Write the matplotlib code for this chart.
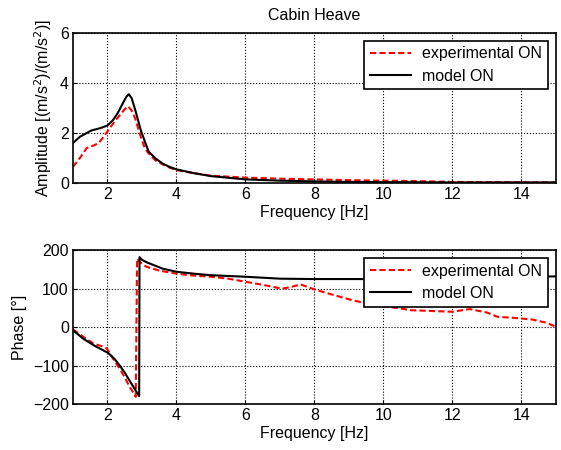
import matplotlib
matplotlib.use('Agg')
import matplotlib.pyplot as plt

plt.rcParams['font.family'] = ['Liberation Sans', 'DejaVu Sans']
plt.rcParams['font.size'] = 11.5

# Amplitude - experimental (red dashed)
amp_exp_f = [1.0, 1.2, 1.4, 1.59, 1.75, 2.02, 2.2, 2.35, 2.5, 2.6, 2.7, 2.8, 2.9, 3.0, 3.1, 3.25, 3.4, 3.6,
             3.8, 4.0, 4.5, 5.0, 6.0, 7.0, 8.0, 9.0, 10.0, 11.0, 12.0, 13.0, 14.0, 15.0]
amp_exp = [0.65, 1.0, 1.4, 1.5, 1.6, 2.1, 2.45, 2.7, 2.95, 3.07, 2.9, 2.6, 2.15, 1.7, 1.35, 1.1, 0.9, 0.75,
           0.62, 0.52, 0.4, 0.3, 0.22, 0.18, 0.15, 0.12, 0.1, 0.08, 0.05, 0.04, 0.03, 0.03]

# Amplitude - model (black solid)
amp_mod_f = [1.0, 1.2, 1.53, 1.8, 2.0, 2.15, 2.3, 2.45, 2.55, 2.62, 2.7, 2.8, 2.97, 3.1, 3.2, 3.4, 3.6, 3.8,
             4.0, 4.5, 5.0, 6.0, 7.0, 8.0, 9.0, 10.0, 12.0, 15.0]
amp_mod = [1.6, 1.85, 2.1, 2.2, 2.3, 2.5, 2.8, 3.2, 3.45, 3.55, 3.4, 2.95, 2.1, 1.6, 1.25, 0.98, 0.78, 0.65,
           0.55, 0.4, 0.28, 0.15, 0.1, 0.07, 0.05, 0.04, 0.03, 0.03]

# Phase - experimental
ph_exp_f = [1.0, 1.3, 1.58, 1.85, 1.98, 2.15, 2.35, 2.5, 2.64, 2.75, 2.82, 2.86, 2.95, 3.13, 3.5, 4.0, 4.5,
            5.0, 5.5, 6.0, 6.5, 7.06, 7.3, 7.6, 8.0, 8.5, 9.1, 9.5, 9.9, 10.4, 10.8, 11.4, 12.0, 12.5, 13.0,
            13.3, 13.8, 14.3, 14.7, 15.0]
ph_exp = [-6, -25, -42, -50, -55, -80, -107, -130, -155, -170, -181, 178, 168, 157, 147, 139, 134,
          131, 126, 118, 110, 100, 104, 111, 98, 85, 70, 62, 55, 50, 44, 42, 40, 47, 38,
          27, 24, 20, 12, 1]

# Phase - model
ph_mod_f = [1.0, 1.3, 1.6, 2.02, 2.2, 2.35, 2.5, 2.69, 2.8, 2.92, 2.93, 3.0, 3.15, 3.35, 3.6, 4.0, 4.5,
            5.0, 6.0, 7.0, 8.0, 9.0, 10.0, 11.0, 12.0, 13.0, 14.0, 15.0]
ph_mod = [-8, -30, -47, -67, -82, -99, -118, -146, -162, -179, 182, 175, 168, 161, 152, 144, 139,
          135, 131, 126, 125, 125, 125, 125, 126, 127, 130, 132]

fig = plt.figure(figsize=(5.61, 4.5), dpi=100)
ax1 = fig.add_axes([0.130, 0.593, 0.861, 0.334])
ax2 = fig.add_axes([0.130, 0.102, 0.861, 0.342])

ax1.plot(amp_exp_f, amp_exp, 'r--', lw=1.5, dashes=(3, 1.5), label='experimental ON')
ax1.plot(amp_mod_f, amp_mod, 'k-', lw=1.5, label='model ON')
ax1.set_xlim(1, 15)
ax1.set_ylim(0, 6)
ax1.set_yticks([0, 2, 4, 6])
ax1.set_title('Cabin Heave', fontsize=11.5, pad=9)
ax1.set_ylabel('Amplitude [(m/s$^2$)/(m/s$^2$)]')

ax2.plot(ph_exp_f, ph_exp, 'r--', lw=1.5, dashes=(3, 1.5), label='experimental ON')
ax2.plot(ph_mod_f, ph_mod, 'k-', lw=1.5, label='model ON')
ax2.set_xlim(1, 15)
ax2.set_ylim(-200, 200)
ax2.set_yticks([-200, -100, 0, 100, 200])
ax2.set_ylabel('Phase [°]')

for ax in (ax1, ax2):
    ax.set_xticks([2, 4, 6, 8, 10, 12, 14])
    ax.set_xlabel('Frequency [Hz]', labelpad=2)
    ax.grid(True, color='black', linestyle=':', linewidth=0.8)
    ax.tick_params(direction='in', length=3, pad=3)
    for s in ax.spines.values():
        s.set_linewidth(1.2)
    leg = ax.legend(loc='upper right', fancybox=False, framealpha=1, edgecolor='black',
                    borderaxespad=0.5, handlelength=2.6, handletextpad=0.7,
                    borderpad=0.35, labelspacing=0.45)
    leg.get_frame().set_linewidth(1.2)

fig.savefig('out.png', dpi=100)
